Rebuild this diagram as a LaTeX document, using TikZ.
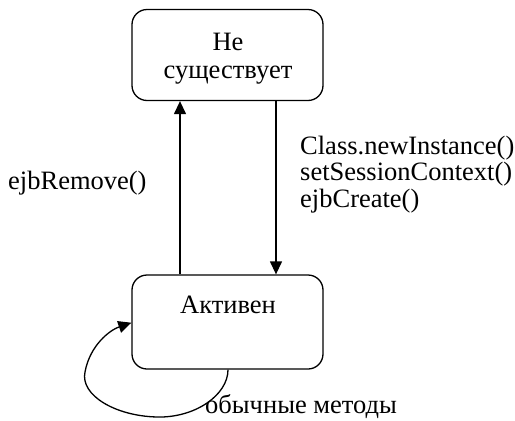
\documentclass[tikz,border=0pt]{standalone}
\usepackage{fontspec}
\setmainfont{Liberation Serif}
\usetikzlibrary{arrows.meta}
\begin{document}
\begin{tikzpicture}[x=1pt,y=-1pt,
  state/.style={draw,line width=1.3pt,rounded corners=15pt,minimum width=191pt,inner sep=0pt},
  lbl/.style={font=\fontsize{26.5}{28}\selectfont,inner sep=0pt},
  arr/.style={line width=1.3pt,-{Triangle[length=13pt,width=12pt]}}]
\useasboundingbox (0,0) rectangle (515,421);
\node[state,minimum height=91pt] (top) at (227.5,55) {};
\node[state,minimum height=94pt] (bot) at (227.5,322) {};
\node[lbl,anchor=base] (ttop1) at (228,50) {Не};
\node[lbl,anchor=base] (ttop2) at (228,78) {существует};
\node[lbl,anchor=base] (tbot) at (228,313) {Активен};
\coordinate (lu) at (180,0);
\coordinate (rd) at (276,0);
\draw[arr] (bot.north -| lu) -- (top.south -| lu);
\draw[arr] (top.south -| rd) -- (bot.north -| rd);
\node[lbl,anchor=base west] (lrem) at (8,189) {ejbRemove()};
\node[lbl,anchor=base west] (lcre1) at (300,154) {Class.newInstance()};
\node[lbl,anchor=base west] (lcre2) at (300,180.5) {setSessionContext()};
\node[lbl,anchor=base west] (lcre3) at (300,207) {ejbCreate()};
\coordinate (ls) at (228,0);
\coordinate (le) at (0,322.7);
\draw[arr] (bot.south -| ls) .. controls (228,395) and (195,418) .. (157,417)
  .. controls (115,416) and (80,395) .. (85,372)
  .. controls (90,345) and (110,330) .. (bot.west |- le);
\node[lbl,anchor=base west] (lmeth) at (205,413) {обычные методы};
\end{tikzpicture}
\end{document}
